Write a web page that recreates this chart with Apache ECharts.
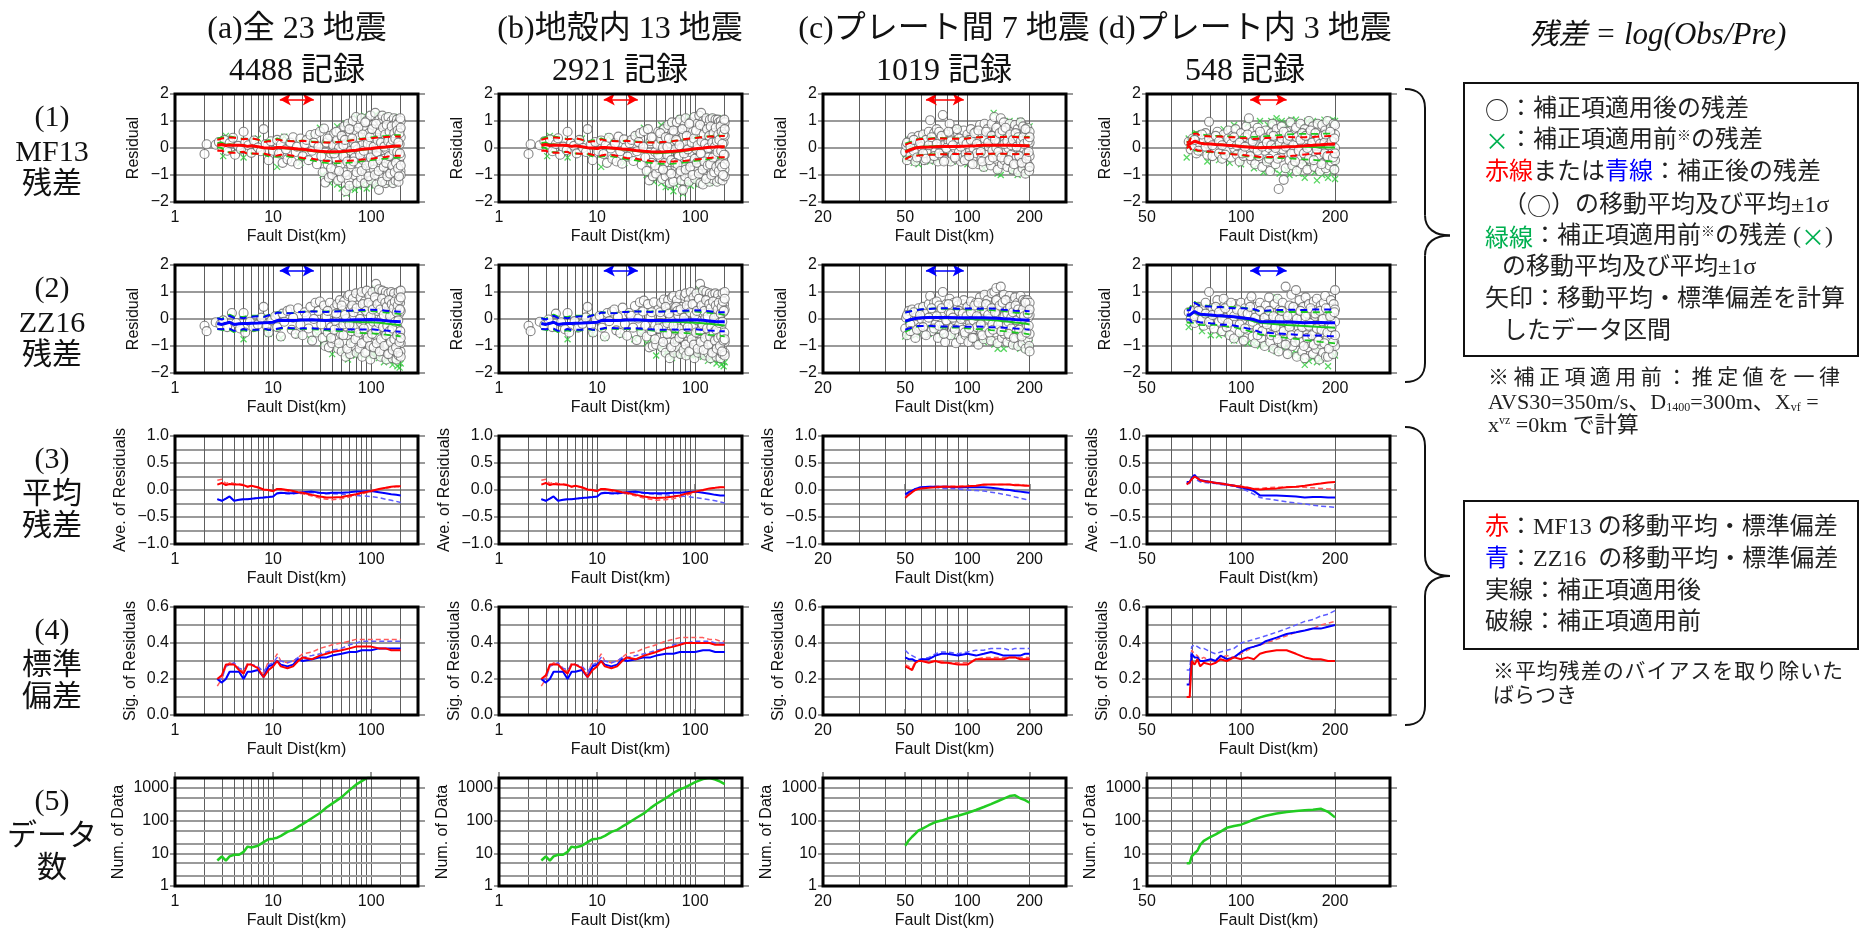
<!DOCTYPE html>
<html><head><meta charset="utf-8">
<script src="https://cdn.jsdelivr.net/npm/echarts@6/dist/echarts.min.js"></script>
<style>html,body{margin:0;padding:0;background:#fff}#c{width:1861px;height:931px}</style>
</head><body><div id="c"></div>
<script>
// ---------------- tick labels / gridline values ----------------
const xLabAB = [1, 10, 100];
const xLabC = [20, 50, 100, 200];
const xLabD = [50, 100, 200];
const vGridAB = [2,3,4,5,6,7,8,9,10,20,30,40,50,60,70,80,90,100,200];
const vGridC = [30,40,50,60,70,80,90,100,200];
const vGridD = [60,70,80,90,100,200];
const yLabCount = [1, 10, 100, 1000];
const yMinorCount = [2, 5, 20, 50, 200, 500];

// ---------------- texts ----------------
const colTitles = ['(a)全 23 地震', '(b)地殻内 13 地震', '(c)プレート間 7 地震', '(d)プレート内 3 地震'];
const colRecords = ['4488 記録', '2921 記録', '1019 記録', '548 記録'];
const rowLabels = [['(1)','MF13','残差'], ['(2)','ZZ16','残差'], ['(3)','平均','残差'], ['(4)','標準','偏差'], ['(5)','データ','数']];

// ---------------- arrows (moving-window interval) ----------------
const arrowAB = [11.7, 26];
const arrowC = [63, 96];
const arrowD = [107, 140];
const arrowY = 1.8;

// ---------------- moving averages / sigmas / counts ----------------
const distAB = [2.7,3,3.3,3.6,4,4.5,5,5.5,6,7,8,9,10,11,12,14,16,18,20,25,30,35,40,50,60,70,80,100,120,140,160,180,200];
const aMf13Mean    = [0.10,0.13,0.09,0.11,0.10,0.10,0.09,0.06,0.08,0.05,0.01,0.00,-0.02,0.02,0.02,0.00,-0.02,-0.04,-0.05,-0.09,-0.12,-0.14,-0.14,-0.13,-0.10,-0.08,-0.05,-0.02,0.02,0.04,0.06,0.07,0.07];
const aMf13MeanPre = [0.18,0.20,0.12,0.14,0.12,0.11,0.10,0.06,0.08,0.04,0.00,-0.01,-0.03,0.02,0.00,-0.02,-0.04,-0.06,-0.07,-0.11,-0.15,-0.17,-0.18,-0.16,-0.13,-0.10,-0.07,-0.03,0.01,0.03,0.05,0.06,0.06];
const aZz16Mean    = [-0.17,-0.20,-0.16,-0.12,-0.20,-0.18,-0.17,-0.17,-0.16,-0.15,-0.14,-0.13,-0.12,-0.06,-0.05,-0.06,-0.06,-0.05,-0.04,-0.03,-0.05,-0.06,-0.05,-0.05,-0.04,-0.03,-0.03,-0.02,-0.04,-0.06,-0.08,-0.09,-0.10];
const aZz16MeanPre = [-0.17,-0.20,-0.16,-0.12,-0.20,-0.18,-0.17,-0.17,-0.16,-0.15,-0.14,-0.13,-0.12,-0.07,-0.06,-0.07,-0.07,-0.06,-0.05,-0.05,-0.06,-0.07,-0.07,-0.08,-0.09,-0.10,-0.11,-0.12,-0.14,-0.17,-0.19,-0.21,-0.23];
const aMf13Sig     = [0.20,0.22,0.28,0.28,0.28,0.25,0.23,0.28,0.28,0.26,0.21,0.25,0.27,0.30,0.27,0.26,0.27,0.30,0.32,0.31,0.33,0.34,0.35,0.36,0.37,0.38,0.38,0.38,0.37,0.37,0.36,0.36,0.36];
const aMf13SigPre  = [0.16,0.20,0.27,0.29,0.28,0.26,0.24,0.29,0.28,0.27,0.23,0.30,0.30,0.34,0.30,0.29,0.30,0.32,0.34,0.35,0.37,0.38,0.39,0.40,0.41,0.42,0.42,0.42,0.42,0.42,0.42,0.42,0.42];
const aZz16Sig     = [0.20,0.18,0.20,0.24,0.24,0.24,0.20,0.24,0.24,0.25,0.21,0.27,0.28,0.30,0.28,0.27,0.28,0.31,0.30,0.31,0.32,0.32,0.33,0.34,0.35,0.35,0.36,0.36,0.37,0.37,0.37,0.37,0.37];
const aZz16SigPre  = [0.20,0.20,0.27,0.28,0.29,0.26,0.25,0.28,0.28,0.27,0.24,0.28,0.29,0.32,0.30,0.29,0.30,0.32,0.32,0.33,0.34,0.35,0.36,0.37,0.39,0.40,0.41,0.41,0.41,0.41,0.41,0.41,0.41];
const aCount       = [6,8,6,8,9,9,11,16,15,17,22,27,28,30,34,45,52,65,78,120,170,250,330,520,850,1250,1600,2400,2800,3200,3500,3800,4000];

const bMf13Mean    = [0.10,0.13,0.09,0.11,0.10,0.10,0.09,0.06,0.08,0.05,0.01,0.00,-0.02,0.02,0.02,0.00,-0.02,-0.04,-0.05,-0.09,-0.12,-0.14,-0.15,-0.14,-0.12,-0.10,-0.07,-0.03,0.00,0.03,0.04,0.05,0.05];
const bMf13MeanPre = [0.18,0.20,0.12,0.14,0.12,0.11,0.10,0.06,0.08,0.04,0.00,-0.01,-0.03,0.02,0.00,-0.02,-0.04,-0.06,-0.07,-0.11,-0.15,-0.17,-0.19,-0.18,-0.16,-0.13,-0.10,-0.05,-0.01,0.02,0.04,0.05,0.05];
const bZz16Mean    = [-0.17,-0.20,-0.16,-0.12,-0.20,-0.18,-0.17,-0.17,-0.16,-0.15,-0.14,-0.13,-0.12,-0.06,-0.05,-0.06,-0.06,-0.05,-0.04,-0.03,-0.05,-0.06,-0.06,-0.06,-0.05,-0.05,-0.04,-0.03,-0.05,-0.07,-0.09,-0.10,-0.10];
const bZz16MeanPre = [-0.17,-0.20,-0.16,-0.12,-0.20,-0.18,-0.17,-0.17,-0.16,-0.15,-0.14,-0.13,-0.12,-0.07,-0.06,-0.07,-0.07,-0.06,-0.05,-0.05,-0.06,-0.07,-0.08,-0.09,-0.10,-0.11,-0.12,-0.14,-0.16,-0.18,-0.20,-0.22,-0.24];
const bMf13Sig     = [0.20,0.22,0.28,0.28,0.28,0.25,0.23,0.28,0.28,0.26,0.21,0.25,0.27,0.30,0.27,0.26,0.27,0.30,0.32,0.31,0.33,0.34,0.35,0.37,0.38,0.39,0.40,0.40,0.40,0.40,0.39,0.39,0.39];
const bMf13SigPre  = [0.16,0.20,0.27,0.29,0.28,0.26,0.24,0.29,0.28,0.27,0.23,0.30,0.30,0.34,0.30,0.29,0.30,0.32,0.34,0.35,0.37,0.38,0.39,0.41,0.42,0.43,0.43,0.43,0.43,0.42,0.42,0.41,0.41];
const bZz16Sig     = [0.20,0.18,0.20,0.24,0.24,0.24,0.20,0.24,0.24,0.25,0.21,0.27,0.28,0.30,0.28,0.27,0.28,0.31,0.30,0.31,0.32,0.32,0.33,0.34,0.34,0.35,0.35,0.35,0.36,0.36,0.35,0.35,0.35];
const bZz16SigPre  = [0.20,0.20,0.27,0.28,0.29,0.26,0.25,0.28,0.28,0.27,0.24,0.28,0.29,0.32,0.30,0.29,0.30,0.32,0.32,0.33,0.34,0.35,0.36,0.37,0.39,0.40,0.40,0.41,0.41,0.41,0.40,0.40,0.40];
const bCount       = [6,8,6,8,9,9,11,16,15,17,22,27,28,30,34,45,52,65,78,120,165,240,320,480,700,900,1050,1500,1850,2000,1800,1550,1300];

const distC = [50,52,54,56,58,60,65,70,75,80,90,100,110,120,130,140,150,160,170,180,190,200];
const cMf13Mean    = [-0.15,-0.09,-0.04,0.00,0.02,0.03,0.04,0.05,0.06,0.06,0.06,0.07,0.08,0.10,0.10,0.10,0.10,0.10,0.09,0.09,0.08,0.08];
const cMf13MeanPre = [-0.12,-0.06,-0.02,0.02,0.04,0.05,0.06,0.07,0.07,0.07,0.07,0.07,0.08,0.09,0.10,0.10,0.10,0.10,0.10,0.10,0.09,0.09];
const cZz16Mean    = [-0.08,-0.04,-0.01,0.02,0.04,0.05,0.06,0.06,0.06,0.06,0.05,0.05,0.05,0.05,0.04,0.03,0.01,0.00,-0.02,-0.03,-0.04,-0.05];
const cZz16MeanPre = [-0.12,-0.07,-0.02,0.02,0.04,0.05,0.06,0.05,0.03,0.03,0.02,0.00,-0.01,-0.02,-0.04,-0.06,-0.08,-0.10,-0.13,-0.15,-0.17,-0.20];
const cMf13Sig     = [0.27,0.26,0.25,0.29,0.30,0.30,0.29,0.30,0.29,0.29,0.28,0.28,0.31,0.31,0.31,0.31,0.31,0.32,0.32,0.31,0.31,0.31];
const cMf13SigPre  = [0.28,0.27,0.26,0.30,0.30,0.31,0.30,0.30,0.30,0.29,0.29,0.29,0.31,0.32,0.32,0.32,0.32,0.32,0.32,0.32,0.32,0.32];
const cZz16Sig     = [0.32,0.31,0.31,0.30,0.30,0.31,0.31,0.33,0.34,0.34,0.33,0.34,0.33,0.34,0.35,0.34,0.33,0.33,0.33,0.33,0.34,0.34];
const cZz16SigPre  = [0.36,0.34,0.33,0.32,0.31,0.31,0.32,0.34,0.35,0.35,0.34,0.35,0.36,0.36,0.37,0.37,0.37,0.36,0.37,0.37,0.37,0.37];
const cCount       = [17,25,32,40,50,55,72,90,100,115,140,170,210,260,320,390,470,560,590,480,420,350];

const distD = [67,68.5,69.5,71,72.5,74,76,80,83,86,90,95,100,105,110,115,120,130,140,150,160,170,180,190,200];
const dMf13Mean    = [0.10,0.15,0.20,0.25,0.22,0.18,0.16,0.15,0.13,0.12,0.10,0.08,0.06,0.04,0.02,0.01,0.02,0.03,0.05,0.06,0.08,0.10,0.12,0.14,0.15];
const dMf13MeanPre = [0.12,0.15,0.20,0.25,0.22,0.19,0.17,0.15,0.14,0.13,0.11,0.09,0.07,0.05,0.03,0.03,0.04,0.05,0.06,0.06,0.05,0.04,0.03,0.02,0.02];
const dZz16Mean    = [0.15,0.15,0.22,0.28,0.22,0.18,0.17,0.15,0.13,0.12,0.10,0.08,0.05,0.02,-0.02,-0.10,-0.10,-0.10,-0.11,-0.12,-0.14,-0.13,-0.13,-0.14,-0.14];
const dZz16MeanPre = [0.12,0.12,0.20,0.25,0.18,0.15,0.14,0.13,0.12,0.10,0.09,0.07,0.03,-0.02,-0.08,-0.14,-0.16,-0.19,-0.22,-0.24,-0.26,-0.28,-0.30,-0.31,-0.32];
const dMf13Sig     = [0.10,0.10,0.30,0.28,0.31,0.27,0.29,0.28,0.29,0.31,0.30,0.32,0.31,0.32,0.31,0.34,0.35,0.36,0.36,0.34,0.32,0.31,0.31,0.30,0.30];
const dMf13SigPre  = [0.10,0.10,0.36,0.34,0.33,0.31,0.32,0.30,0.31,0.32,0.33,0.32,0.34,0.36,0.38,0.39,0.40,0.42,0.44,0.46,0.47,0.48,0.50,0.51,0.52];
const dZz16Sig     = [0.17,0.17,0.34,0.32,0.32,0.30,0.30,0.31,0.30,0.33,0.31,0.32,0.35,0.37,0.38,0.39,0.41,0.43,0.45,0.46,0.47,0.48,0.48,0.49,0.50];
const dZz16SigPre  = [0.25,0.25,0.38,0.39,0.38,0.37,0.37,0.35,0.34,0.35,0.36,0.37,0.40,0.41,0.42,0.43,0.44,0.46,0.48,0.50,0.52,0.53,0.55,0.56,0.58];
const dCount       = [5,5,8,10,12,18,24,32,38,46,60,68,75,90,108,125,140,165,182,195,208,215,230,185,125];

// ---------------- residual scatter (circles: after correction, crosses: before) ----------------
const aMf13Circ = [[2.0,-0.22],[2.1,0.14],[2.6,0.12],[2.8,0.22],[3.0,0.05],[3.2,0.3],[3.4,-0.1],[3.6,0.18],[3.9,0.38],[4.1,-0.25],[4.4,0.08],[4.7,-0.05],[5.0,0.6],[5.2,0.2],[5.6,0.1],[6.0,-0.18],[6.4,0.28],[7.0,0.02],[7.5,-0.12],[8.0,0.7],[8.4,0.15],[9.0,-0.45],[9.5,0.25],[10,-0.1],
[11,0.3],[11.5,-0.2],[12,0.12],[12.5,-0.55],[13,0.35],[13.5,-0.05],[14,-0.42],[15,0.2],[15.5,-0.5],[16,0.4],[17,-0.15],[17.5,0.05],[18,-0.6],[19,0.35],[20,-0.3],[21,0.15],[22,0.3],[23,-0.45],[24,0.48],[25,-0.1],[26,0.2],[27,0.52],[28,-0.6],[29,0.05],
[30,0.6],[31,-0.3],[32,-0.9],[33,0.72],[34,-1.28],[35,0.2],[36,-0.6],[37,-1.1],[38,0.45],[39,-0.2],[40,-1.0],[41,0.1],[42,0.55],[43,-0.8],[44,-0.4],[45,0.3],[46,-1.2],[47,0.0],[48,0.65],[49,-0.6],[50,-1.1],[51,0.35],[52,-0.3],[53,0.8],[54,-0.9],[55,-1.6],[56,0.15],[57,-0.5],[58,0.9],[59,-1.2],[60,-1.4],[61,0.5],[62,-0.1],[63,-0.75],[65,1.0],[66,0.2],[67,-1.0],[68,-0.35],[70,1.15],[71,0.6],[72,-1.3],[73,-0.05],[75,0.4],[76,-0.7],[78,0.9],[79,-1.1],[80,1.1],[81,0.1],[83,-0.45],[85,0.7],[86,-1.3],[88,-0.2],[90,1.0],[91,0.35],[93,-0.9],[95,0.55],[96,-0.55],[98,1.2],[100,-1.2],[101,0.25],[103,-0.1],[105,0.85],[107,-0.8],[110,1.3],[111,0.45],[113,-1.35],[115,-0.3],[117,0.7],[120,-1.55],[121,1.05],[123,0.1],[125,-0.7],[127,0.95],[130,1.2],[131,-1.1],[133,0.3],[135,-0.4],[137,0.8],[140,-1.3],[141,1.1],[143,-0.05],[145,0.5],[147,-0.9],[150,1.15],[151,-1.2],[153,0.2],[155,-0.6],[157,0.75],[160,-1.0],[161,1.0],[163,-0.25],[165,0.45],[167,-1.3],[170,1.1],[171,-0.7],[173,0.1],[175,0.9],[177,-1.2],[180,-0.4],[181,0.6],[183,1.05],[185,-1.0],[187,0.3],[190,-1.25],[191,0.95],[193,-0.5],[195,0.15],[197,0.7],[199,-0.85],[200,1.0],[200,-1.0],[200,0.4],[200,-0.3]];
const aMf13CircFill = [[36,0.35],[39,-0.75],[42,-0.2],[44,0.6],[47,-0.85],[50,0.45],[52,0.1],[54,0.3],[57,-1.0],[60,0.7],[62,-0.6],[64,0.35],[66,-0.5],[69,0.05],[71,-0.9],[74,0.75],[77,-0.25],[80,-0.85],[82,0.5],[84,-0.1],[87,0.95],[89,-0.65],[92,0.15],[94,-1.05],[97,0.4],[99,-0.35],[102,0.7],[104,-0.6],[106,0.05],[109,-1.0],[112,0.9],[114,-0.15],[116,0.3],[119,-0.85],[122,0.55],[124,-0.45],[126,0.2],[129,-1.25],[132,0.75],[134,-0.7],[136,0.05],[139,0.5],[142,-0.55],[144,0.85],[146,-1.05],[149,0.25],[152,-0.3],[154,0.6],[156,-0.95],[159,0.1],[162,0.8],[164,-0.65],[166,0.3],[169,-0.1],[172,0.55],[174,-0.9],[176,0.35],[179,-0.55],[182,0.85],[184,-0.15],[186,0.65],[188,-0.75],[189,0.2],[192,-1.05],[194,0.55],[196,-0.2],[198,1.1],[200,-0.65],[200,0.75]];
const aMf13Cross = [[3.3,0.45],[3.1,-0.3],[5,-0.35],[7,0.35],[11,-0.7],[13,0.42],[19,-0.55],[25,0.45],[32,-1.0],[38,-1.3],[45,-1.35],[50,-1.5],[56,-1.7],[62,-1.5],[68,-1.55],[75,-1.45],[82,-1.35],[90,-1.5],[98,-1.3],[108,-1.4],[118,-1.35],[128,-1.25],[140,-1.3],[150,-1.2],[165,-1.3],[180,-1.1],[195,-1.0],[70,1.15],[85,1.2],[112,1.25],[140,1.2],[170,1.15],[30,0.75],[45,0.8],[55,0.9]];
const aZz16Circ = [[2.0,-0.25],[2.1,-0.45],[2.6,-0.12],[2.9,-0.2],[3.1,-0.05],[3.4,-0.3],[3.8,0.22],[4.2,-0.15],[4.6,-0.35],[5.0,0.22],[5.2,-0.5],[5.8,-0.1],[6.3,-0.3],[7.0,-0.2],[7.6,0.05],[8.0,0.45],[8.6,-0.25],[9.0,-0.5],[9.6,-0.05],[10.5,0.1],[11,-0.3],[12,-0.65],[12.5,0.2],[13,-0.1],[14,0.3],[15,0.35],[15.5,-0.4],[16,0.05],[17,-0.55],[18,0.4],[19,-0.2],[20,-0.6],[21,0.25],[22,0.1],[23,-0.35],[24,0.45],[25,-0.8],[26,0.0],[27,0.6],[28,-0.5],[29,0.3],
[30,0.65],[31,-0.2],[32,-0.7],[33,0.5],[34,-1.0],[35,0.1],[36,-0.5],[37,-1.05],[38,0.6],[39,-0.3],[40,-0.9],[41,0.25],[42,0.4],[43,-0.75],[44,-0.1],[45,0.55],[46,-1.1],[47,-0.35],[48,0.7],[49,-0.55],[50,-1.2],[51,0.3],[52,-0.2],[53,0.65],[54,-0.9],[55,-1.4],[56,0.0],[57,-0.6],[58,0.85],[59,-1.15],[60,0.9],[61,-1.3],[62,0.35],[63,-0.45],[65,0.75],[66,-1.0],[67,0.1],[68,-0.3],[70,0.95],[71,-1.25],[72,0.5],[73,-0.7],[75,0.2],[76,-1.1],[78,0.8],[79,-0.15],[80,1.0],[81,-1.4],[83,0.4],[85,-0.85],[86,0.65],[88,-0.5],[90,1.05],[91,-1.2],[93,0.15],[95,-0.3],[96,0.85],[98,-1.5],[100,0.5],[101,-0.9],[103,1.0],[105,-0.1],[107,-1.3],[110,0.7],[112,1.3],[113,-0.6],[115,0.3],[117,-1.1],[120,1.1],[121,-0.35],[123,0.6],[125,-1.4],[127,0.0],[130,1.05],[131,-0.8],[133,0.45],[135,-1.2],[137,0.85],[140,-0.5],[141,1.0],[143,-1.5],[145,0.2],[147,-0.95],[150,0.95],[151,-0.2],[153,-1.3],[155,0.6],[157,-0.65],[160,1.0],[161,-1.1],[163,0.3],[165,-1.45],[167,0.8],[170,-0.4],[171,0.95],[173,-1.2],[175,0.1],[177,-0.8],[180,0.75],[181,-1.5],[183,0.4],[185,-0.3],[187,-1.0],[190,1.0],[191,-1.35],[193,0.2],[195,-0.6],[197,0.6],[199,-1.2],[200,1.05],[200,-0.9],[200,0.3],[200,-1.4]];
const aZz16CircFill = [[36,0.3],[39,-0.7],[42,-0.4],[44,0.2],[47,-0.9],[50,0.5],[52,-0.6],[54,0.15],[57,-1.1],[60,-0.2],[62,-0.9],[64,0.5],[66,0.25],[69,-0.75],[71,0.4],[74,-0.5],[77,0.0],[80,-0.9],[82,0.55],[84,-0.35],[87,-1.25],[89,0.3],[92,-0.7],[94,0.6],[97,-1.0],[99,0.1],[102,-0.55],[104,0.35],[106,-1.05],[109,0.8],[112,-0.4],[114,-0.9],[116,0.55],[119,-0.15],[122,-1.2],[124,0.35],[126,-0.75],[129,0.75],[132,-0.3],[134,0.15],[136,-1.0],[139,0.6],[142,-0.6],[144,0.45],[146,-0.25],[149,-1.3],[152,0.7],[154,-0.45],[156,0.1],[159,-0.85],[162,0.55],[164,-0.35],[166,-1.15],[169,0.4],[172,-0.75],[174,0.65],[176,-0.1],[179,-1.05],[182,0.25],[184,-0.6],[186,0.5],[188,-1.25],[189,-0.05],[192,0.7],[194,-0.85],[196,0.35],[198,-0.45],[200,0.8],[200,-0.7]];
const aZz16Cross = [[5,-0.75],[9,-0.55],[12,-0.7],[18,-0.6],[24,-0.75],[28,-0.55],[32,-0.9],[36,-0.75],[40,-1.3],[45,-1.0],[50,-1.2],[55,-1.3],[58,-1.5],[62,-1.25],[66,-1.2],[70,-1.35],[75,-1.3],[80,-1.25],[85,-1.35],[90,-1.3],[95,-1.4],[100,-1.2],[105,-1.35],[112,-1.3],[120,-1.45],[128,-1.3],[135,-1.6],[145,-1.4],[155,-1.55],[165,-1.7],[175,-1.5],[185,-1.75],[195,-1.8],[200,-1.65],[110,1.15],[60,-0.9],[150,-1.1],[190,-1.2]];

const bMf13Circ = [[2.0,-0.22],[2.1,0.14],[2.6,0.1],[2.9,0.25],[3.1,0.02],[3.3,0.32],[3.5,-0.12],[3.8,0.15],[4.0,0.36],[4.2,-0.25],[4.5,0.05],[4.9,-0.08],[5.0,0.6],[5.4,0.18],[5.8,0.08],[6.2,-0.2],[6.6,0.3],[7.2,0.0],[7.7,-0.15],[8.0,0.7],[8.6,0.12],[9.0,-0.45],[9.6,0.22],[10.3,-0.12],
[11,0.28],[11.6,-0.22],[12.2,0.1],[12.6,-0.55],[13.2,0.38],[13.8,-0.02],[14.3,-0.4],[15.2,0.18],[15.8,-0.5],[16.5,0.42],[17.2,-0.12],[18,-0.58],[18.8,0.32],[19.5,0.02],[20.5,-0.32],[21.5,0.18],[22.5,0.3],[23.5,-0.48],[24.5,0.45],[25.5,-0.12],[26.5,0.22],[27.5,0.55],[28.5,-0.62],[29.5,0.05],
[30,0.62],[31,-0.35],[32,-0.85],[33,0.7],[34,-1.2],[35,0.25],[36,-0.55],[37,-1.05],[38,0.4],[39,-0.15],[40,-0.95],[41,0.12],[42,0.6],[43,-0.75],[44,-0.35],[45,0.32],[46,-1.15],[47,0.02],[48,0.7],[49,-0.55],[50,-1.05],[51,0.4],[52,-0.25],[53,0.85],[54,-0.85],[55,-1.3],[56,0.18],[57,-0.45],[58,0.95],[59,-1.15],[60,-1.25],[61,0.55],[62,-0.05],[63,-0.7],[65,0.95],[66,0.25],[67,-0.95],[68,-0.3],[70,1.05],[71,0.65],[72,-1.2],[73,0.0],[75,-1.55],[76,0.45],[77,-0.65],[78,0.85],[79,-1.05],[80,1.1],[81,0.15],[83,-0.4],[85,0.75],[86,-1.25],[88,-0.15],[90,0.95],[91,0.4],[93,-0.85],[95,0.6],[96,-0.5],[98,1.15],[100,-1.15],[101,0.3],[103,-0.05],[105,0.9],[107,-0.75],[110,1.2],[112,0.5],[113,-1.3],[115,1.3],[116,-0.25],[118,0.75],[120,-1.35],[121,1.0],[123,0.15],[125,-0.65],[127,1.0],[130,1.1],[131,-1.05],[133,0.35],[135,-0.35],[137,0.85],[140,-1.25],[141,1.05],[143,0.0],[145,0.55],[147,-0.85],[150,1.1],[151,-1.15],[153,0.25],[155,-0.55],[157,0.8],[160,-0.95],[161,1.05],[163,-0.2],[165,0.5],[167,-1.25],[170,1.05],[171,-0.65],[173,0.15],[175,0.95],[177,-1.15],[180,-0.35],[181,0.65],[183,1.0],[185,-0.95],[187,0.35],[190,-1.2],[191,0.9],[193,-0.45],[195,0.2],[197,0.75],[199,-0.8],[200,0.95],[200,-1.05],[200,0.45],[200,-0.25]];
const bMf13CircFill = [[36,0.4],[39,-0.65],[42,-0.25],[44,0.55],[47,-0.8],[50,0.4],[52,0.05],[54,0.35],[57,-0.95],[60,0.65],[62,-0.55],[64,0.3],[66,-0.6],[69,0.1],[71,-0.85],[74,0.7],[77,-0.2],[80,-0.8],[82,0.45],[84,-0.05],[87,0.9],[89,-0.7],[92,0.2],[94,-1.0],[97,0.35],[99,-0.4],[102,0.65],[104,-0.55],[106,0.1],[109,-0.95],[112,0.85],[114,-0.2],[116,0.25],[119,-0.8],[122,0.5],[124,-0.5],[126,0.15],[129,-1.15],[132,0.7],[134,-0.65],[136,0.0],[139,0.45],[142,-0.6],[144,0.8],[146,-1.0],[149,0.2],[152,-0.35],[154,0.55],[156,-0.9],[159,0.05],[162,0.75],[164,-0.7],[166,0.25],[169,-0.15],[172,0.5],[174,-0.85],[176,0.3],[179,-0.6],[182,0.8],[184,-0.1],[186,0.6],[188,-0.7],[189,0.15],[192,-1.0],[194,0.5],[196,-0.25],[198,1.05],[200,-0.6],[200,0.7]];
const bMf13Cross = [[3.3,0.45],[3.1,-0.3],[5,-0.35],[7,0.35],[11,-0.7],[13,0.42],[19,-0.55],[25,0.45],[32,-1.0],[38,-1.25],[45,-1.3],[50,-1.45],[56,-1.45],[62,-1.35],[68,-1.3],[75,-1.7],[82,-1.3],[90,-1.4],[98,-1.25],[108,-1.35],[118,-1.3],[128,-1.2],[140,-1.3],[150,-1.15],[165,-1.25],[180,-1.1],[195,-0.95],[70,1.1],[85,1.15],[112,1.2],[140,1.15],[170,1.1],[30,0.75],[45,0.85],[55,0.9],[60,-1.6]];
const bZz16Circ = [[2.0,-0.25],[2.1,-0.45],[2.6,-0.1],[2.9,-0.22],[3.2,-0.02],[3.5,-0.3],[3.8,0.2],[4.3,-0.12],[4.7,-0.38],[5.0,0.22],[5.2,-0.5],[5.9,-0.08],[6.4,-0.32],[7.1,-0.18],[7.7,0.06],[8.0,0.45],[8.7,-0.22],[9.1,-0.5],[9.7,-0.02],[10.6,0.12],[11.2,-0.32],[12,-0.65],[12.7,0.22],[13.3,-0.08],[14.2,0.28],[15,0.35],[15.7,-0.42],[16.3,0.08],[17.2,-0.52],[18.2,0.42],[19.2,-0.18],[20.2,-0.62],[21.2,0.22],[22.2,0.12],[23.3,-0.32],[24.3,0.48],[25.3,-0.78],[26.3,0.02],[27.3,0.62],[28.3,-0.48],[29.3,0.28],
[30,0.68],[31,-0.25],[32,-0.65],[33,0.55],[34,-1.05],[35,0.05],[36,-0.45],[37,-1.0],[38,0.62],[39,-0.25],[40,-0.95],[41,0.3],[42,0.35],[43,-0.7],[44,-0.15],[45,0.6],[46,-1.05],[47,-0.3],[48,0.72],[49,-0.6],[50,-1.25],[51,0.25],[52,-0.15],[53,0.7],[54,-0.85],[55,-1.45],[56,0.05],[57,-0.55],[58,0.8],[59,-1.1],[60,0.85],[61,-1.25],[62,0.4],[63,-0.4],[65,0.7],[66,-1.05],[67,0.15],[68,-0.35],[70,0.9],[71,-1.3],[72,0.45],[73,-0.65],[75,0.25],[76,-1.15],[78,0.85],[79,-0.1],[80,0.95],[81,-1.35],[83,0.35],[85,-0.8],[86,0.7],[88,-0.55],[90,1.0],[91,-1.15],[93,0.2],[95,-0.25],[96,0.8],[98,-1.45],[100,0.55],[101,-0.85],[103,0.95],[105,-0.05],[107,-1.25],[110,0.75],[112,1.3],[113,-0.55],[115,0.25],[117,-1.15],[120,1.05],[121,-0.4],[123,0.55],[125,-1.35],[127,0.05],[130,1.0],[131,-0.75],[133,0.5],[135,-1.25],[137,0.8],[140,-0.45],[141,0.95],[143,-1.45],[145,0.25],[147,-0.9],[150,0.9],[151,-0.25],[153,-1.25],[155,0.65],[157,-0.6],[160,0.95],[161,-1.15],[163,0.35],[165,-1.4],[167,0.75],[170,-0.35],[171,0.9],[173,-1.15],[175,0.15],[177,-0.85],[180,0.7],[181,-1.45],[183,0.45],[185,-0.25],[187,-1.05],[190,0.95],[191,-1.3],[193,0.25],[195,-0.65],[197,0.55],[199,-1.25],[200,1.0],[200,-0.85],[200,0.35],[200,-1.35]];
const bZz16CircFill = [[36,0.25],[39,-0.75],[42,-0.35],[44,0.25],[47,-0.85],[50,0.45],[52,-0.55],[54,0.2],[57,-1.05],[60,-0.25],[62,-0.85],[64,0.45],[66,0.3],[69,-0.7],[71,0.35],[74,-0.55],[77,0.05],[80,-0.95],[82,0.5],[84,-0.3],[87,-1.2],[89,0.25],[92,-0.75],[94,0.55],[97,-0.95],[99,0.15],[102,-0.5],[104,0.3],[106,-1.1],[109,0.75],[112,-0.45],[114,-0.85],[116,0.5],[119,-0.2],[122,-1.15],[124,0.3],[126,-0.7],[129,0.7],[132,-0.35],[134,0.1],[136,-0.95],[139,0.55],[142,-0.65],[144,0.4],[146,-0.3],[149,-1.25],[152,0.65],[154,-0.5],[156,0.05],[159,-0.8],[162,0.5],[164,-0.4],[166,-1.1],[169,0.35],[172,-0.7],[174,0.6],[176,-0.15],[179,-1.0],[182,0.2],[184,-0.65],[186,0.45],[188,-1.2],[189,-0.1],[192,0.65],[194,-0.8],[196,0.3],[198,-0.5],[200,0.75],[200,-0.75]];
const bZz16Cross = [[5,-0.75],[9,-0.55],[12,-0.7],[18,-0.6],[24,-0.75],[28,-0.55],[32,-0.9],[36,-0.8],[40,-1.35],[45,-1.05],[50,-1.25],[55,-1.3],[58,-1.45],[62,-1.3],[66,-1.15],[70,-1.3],[75,-1.35],[80,-1.2],[85,-1.3],[90,-1.35],[95,-1.35],[100,-1.25],[105,-1.3],[112,-1.35],[120,-1.4],[128,-1.35],[135,-1.55],[145,-1.45],[155,-1.5],[165,-1.65],[175,-1.55],[185,-1.7],[195,-1.75],[200,-1.6],[110,1.1],[60,-0.95],[150,-1.15],[190,-1.25]];

const cMf13Circ = [[50,-0.15],[50.5,0.1],[51,-0.45],[52,0.25],[53,-0.3],[54,0.4],[55,-0.1],[56,-0.5],[57,0.15],[58,0.45],[59,-0.35],[60,0.05],[61,0.5],[62,-0.45],[63,0.3],[64,-0.2],[65,0.6],[66,1.03],[67,-0.4],[68,0.2],[69,0.55],[70,-0.15],[71,0.7],[72,-0.5],[73,0.6],[74,0.35],[75,-0.3],[76,1.22],[77,0.1],[78,-0.45],[79,0.5],[80,-0.05],[81,0.25],[82,0.9],[83,-0.5],[84,0.4],[85,-0.25],[86,0.6],[87,0.0],[88,-0.4],[89,0.3],[90,0.55],[91,-0.15],[92,0.15],[93,-0.5],[94,0.45],[95,-0.35],[96,0.65],[97,0.05],[98,-0.2],[100,0.5],[101,-0.45],[102,0.3],[103,-0.1],[104,0.7],[105,-0.55],[106,0.2],[107,0.0],[108,-0.35],[110,0.6],[111,-0.2],[112,0.35],[113,-0.6],[115,0.85],[116,0.1],[117,-0.4],[118,0.5],[120,-0.7],[121,0.9],[122,0.25],[123,-0.25],[125,0.7],[126,-0.5],[127,0.05],[128,0.45],[130,-0.65],[131,0.9],[132,-0.1],[133,0.35],[135,1.15],[136,-0.4],[137,0.6],[138,0.0],[140,-0.8],[141,0.8],[142,0.2],[143,-0.3],[145,1.1],[146,0.5],[147,-0.6],[148,0.1],[150,0.95],[151,-0.45],[152,0.3],[153,-0.15],[155,0.7],[156,-0.7],[157,0.4],[158,0.0],[160,0.9],[161,-0.5],[162,0.2],[163,-0.25],[165,0.6],[166,-0.8],[167,0.45],[168,0.05],[170,0.85],[171,-0.6],[172,0.25],[173,-0.35],[175,0.7],[176,-0.9],[177,0.15],[178,0.5],[180,-0.5],[181,0.95],[182,-0.1],[183,0.35],[185,-0.75],[186,0.8],[187,0.0],[188,-0.4],[190,0.6],[191,-0.95],[192,0.3],[193,-0.2],[195,0.75],[196,-0.6],[197,0.1],[198,0.45],[199,-0.85],[200,0.6],[200,-0.3],[200,0.2],[200,-0.7]];
const cMf13CircFill = [[51,0.2],[53,0.05],[55,0.3],[57,-0.35],[59,0.2],[61,-0.2],[63,-0.4],[65,0.1],[67,0.4],[69,-0.3],[71,0.15],[73,-0.2],[75,0.45],[77,-0.5],[79,0.0],[81,0.6],[83,0.25],[85,0.1],[87,-0.35],[89,0.7],[91,0.35],[93,0.05],[95,0.25],[97,-0.45],[99,0.15],[102,-0.3],[104,0.3],[106,-0.6],[108,0.55],[111,0.15],[113,0.65],[116,-0.15],[118,-0.5],[121,0.35],[123,0.6],[126,0.2],[128,-0.45],[131,0.45],[133,-0.35],[136,0.3],[138,0.75],[141,-0.15],[143,0.55],[146,-0.35],[148,0.65],[151,0.15],[153,0.75],[156,0.25],[158,-0.45],[161,0.5],[163,0.1],[166,0.3],[168,-0.6],[171,0.55],[173,0.05],[176,0.4],[178,-0.3],[181,0.25],[183,-0.55],[186,0.4],[188,0.15],[191,0.7],[193,-0.4],[196,0.25],[198,-0.15],[200,0.4]];
const cMf13Cross = [[50,-0.4],[52,0.3],[55,-0.55],[58,-0.6],[62,0.45],[66,-0.5],[72,-0.45],[80,0.5],[85,-0.5],[90,0.7],[95,-0.45],[100,-0.6],[110,-0.55],[120,-0.75],[134,1.3],[140,-0.95],[145,-1.0],[150,0.75],[160,1.0],[165,-0.85],[175,-1.0],[180,1.0],[188,-0.85],[192,-0.95],[198,-0.7],[200,0.8]];
const cZz16Circ = [[50,-0.35],[50.5,0.05],[51,-0.6],[52,0.3],[53,-0.2],[54,0.35],[55,-0.5],[56,-0.7],[57,0.1],[58,0.4],[59,-0.3],[60,0.0],[61,0.45],[62,-0.55],[63,0.2],[64,-0.1],[65,0.55],[66,0.85],[67,-0.45],[68,0.25],[69,0.6],[70,-0.2],[71,0.65],[72,-0.7],[73,0.5],[74,0.3],[75,-0.4],[76,1.0],[77,0.15],[78,-0.85],[79,0.55],[80,-0.1],[81,0.3],[82,0.75],[83,-0.6],[84,0.45],[85,-0.3],[86,0.6],[87,-0.05],[88,-0.9],[89,0.25],[90,0.5],[91,-0.25],[92,0.1],[93,-0.75],[94,0.55],[95,-0.4],[96,0.7],[97,0.0],[98,-0.6],[100,0.45],[101,-0.85],[102,0.2],[103,-0.15],[104,0.65],[105,-0.5],[106,0.3],[107,-0.05],[108,-0.7],[110,0.6],[111,-0.3],[112,0.35],[113,-0.95],[115,0.8],[116,0.05],[117,-0.5],[118,0.45],[120,-0.75],[121,0.9],[122,0.2],[123,-0.35],[125,0.7],[126,-0.6],[127,0.0],[128,0.5],[130,-0.8],[131,0.95],[132,-0.2],[133,0.3],[135,1.0],[136,-0.5],[137,0.6],[138,1.15],[140,-0.9],[141,0.75],[142,0.15],[143,-0.4],[145,1.2],[146,0.45],[147,-0.7],[148,0.05],[150,0.9],[151,-0.55],[152,0.25],[153,-0.25],[155,0.7],[156,-0.85],[157,0.4],[158,-0.1],[160,0.85],[161,-0.65],[162,0.15],[163,-0.35],[165,0.65],[166,-0.95],[167,0.4],[168,0.0],[170,0.8],[171,-0.7],[172,0.2],[173,-0.45],[175,0.6],[176,-1.0],[177,0.1],[178,0.5],[180,-0.6],[181,0.85],[182,-0.2],[183,0.3],[185,-0.9],[186,0.7],[187,-0.05],[188,-0.5],[190,0.65],[191,-1.1],[192,0.25],[193,-0.3],[195,0.7],[196,-0.75],[197,0.05],[198,0.4],[199,-1.0],[200,0.6],[200,-1.2],[200,0.15],[200,-0.55]];
const cZz16CircFill = [[51,0.15],[53,-0.45],[55,0.25],[57,-0.4],[59,0.15],[61,-0.3],[63,-0.6],[65,0.05],[67,0.4],[69,-0.35],[71,0.1],[73,-0.25],[75,0.4],[77,-0.55],[79,-0.05],[81,0.55],[83,0.2],[85,0.05],[87,-0.4],[89,0.65],[91,0.3],[93,0.0],[95,0.2],[97,-0.5],[99,0.1],[102,-0.35],[104,0.25],[106,-0.7],[108,0.5],[111,0.1],[113,0.6],[116,-0.2],[118,-0.6],[121,0.3],[123,0.55],[126,0.15],[128,-0.5],[131,0.4],[133,-0.4],[136,0.25],[138,0.7],[141,-0.2],[143,0.5],[146,-0.45],[148,0.6],[151,0.1],[153,0.7],[156,0.2],[158,-0.55],[161,0.45],[163,0.05],[166,0.25],[168,-0.7],[171,0.5],[173,-0.05],[176,0.35],[178,-0.4],[181,0.2],[183,-0.65],[186,0.35],[188,0.1],[191,0.6],[193,-0.5],[196,0.2],[198,-0.25],[200,0.35]];
const cZz16Cross = [[50,-0.65],[53,-0.5],[56,-0.6],[60,-0.5],[65,-0.55],[70,-0.45],[75,-0.6],[85,-0.65],[95,-0.6],[100,-0.7],[110,-0.75],[120,-0.85],[130,-0.75],[135,-0.95],[140,-1.1],[150,-1.1],[160,-0.95],[170,-1.0],[180,-1.1],[185,-0.95],[190,-1.0],[195,-1.15],[200,-0.9]];

const dMf13Circ = [[68,0.23],[69,-0.05],[70,0.35],[71,0.1],[72,-0.2],[73,0.45],[74,0.15],[75,-0.1],[76,0.3],[77,0.55],[78,-0.25],[79,0.97],[80,0.2],[81,-0.3],[82,0.4],[83,0.0],[84,0.6],[85,-0.2],[86,0.3],[87,-0.4],[88,0.5],[89,0.1],[90,-0.1],[91,0.65],[92,0.25],[93,-0.35],[94,0.45],[95,0.0],[96,0.7],[97,-0.25],[98,0.3],[99,-0.5],[100,0.55],[101,0.1],[102,-0.3],[103,0.4],[104,0.8],[105,-0.15],[106,1.1],[107,0.2],[108,-0.45],[109,0.6],[110,0.0],[111,-0.6],[112,0.35],[113,0.75],[114,-0.3],[115,0.15],[116,0.5],[117,-0.7],[118,0.25],[119,-0.1],[120,0.65],[121,-0.5],[122,0.4],[123,0.0],[124,-0.85],[125,0.55],[126,0.9],[127,-0.25],[128,0.2],[129,-0.6],[130,0.7],[131,0.1],[132,-1.52],[133,0.45],[134,-0.35],[135,0.8],[136,-0.05],[137,-1.18],[138,0.3],[139,-0.75],[140,0.6],[142,0.05],[143,-0.45],[144,0.95],[145,0.25],[146,-0.65],[147,0.5],[148,-0.2],[150,0.75],[151,-0.85],[152,0.15],[153,0.45],[154,-0.4],[155,0.9],[156,0.0],[157,-0.6],[158,0.35],[160,0.7],[161,-0.3],[162,0.2],[163,-0.8],[164,0.55],[165,1.0],[166,-0.1],[167,0.4],[168,-0.5],[170,0.8],[171,0.1],[172,-0.7],[173,0.3],[174,-0.25],[175,0.6],[176,0.9],[177,-0.4],[178,0.15],[179,-0.85],[180,0.5],[181,0.05],[182,0.85],[183,-0.55],[184,0.3],[185,-0.2],[186,0.65],[187,-0.75],[188,0.2],[189,1.0],[190,-0.35],[191,0.4],[192,-0.65],[193,0.1],[194,0.75],[195,-0.5],[196,0.3],[197,-0.1],[198,0.9],[199,-0.8],[200,0.5],[200,0.0],[200,-0.45],[200,0.85]];
const dMf13CircFill = [[71,0.3],[73,-0.1],[75,0.5],[77,0.05],[79,0.35],[81,0.1],[83,0.45],[85,0.25],[87,0.1],[89,-0.25],[91,0.35],[93,0.15],[95,0.4],[97,0.1],[99,0.2],[101,-0.2],[103,0.05],[105,0.5],[107,-0.3],[109,0.25],[111,0.45],[113,-0.1],[115,0.6],[117,0.05],[119,0.35],[121,0.2],[123,-0.4],[125,0.1],[127,0.45],[129,0.0],[131,-0.4],[133,0.15],[135,0.35],[137,0.6],[139,0.05],[141,0.3],[143,0.45],[145,-0.2],[147,0.1],[149,-0.5],[151,0.4],[153,-0.1],[155,0.3],[157,0.55],[159,-0.2],[161,0.45],[163,0.0],[165,-0.4],[167,0.65],[169,0.2],[171,-0.45],[173,0.55],[175,-0.05],[177,0.35],[179,0.15],[181,-0.6],[183,0.45],[185,0.2],[187,0.5],[189,-0.3],[191,0.1],[193,0.6],[195,0.25],[197,-0.35],[199,0.35],[200,-0.2]];
const dMf13Cross = [[67,-0.35],[68,0.35],[72,0.55],[78,-0.5],[85,-0.45],[88,0.7],[92,-0.55],[95,0.85],[100,-0.6],[105,0.9],[110,-0.75],[115,1.0],[118,-0.9],[122,0.85],[125,1.0],[128,-0.8],[130,1.1],[133,-0.95],[135,1.0],[138,0.7],[140,-0.8],[143,-1.0],[145,1.05],[148,-0.7],[150,1.05],[153,-0.95],[156,0.8],[160,-1.1],[163,1.0],[166,-0.6],[170,1.0],[172,-0.9],[175,-1.2],[178,0.95],[182,-1.0],[185,1.05],[188,-0.7],[190,-1.1],[193,0.85],[195,-0.9],[197,1.05],[200,1.0],[200,-1.15],[200,-0.6],[160,-0.5],[180,-0.55],[140,0.9],[120,-0.5]];
const dZz16Circ = [[68,0.25],[69,0.0],[70,0.3],[71,-0.15],[72,0.15],[73,0.45],[74,-0.05],[75,0.35],[76,-0.25],[77,0.6],[78,0.1],[79,1.0],[80,-0.2],[81,0.4],[82,-0.35],[83,0.2],[84,0.7],[85,-0.1],[86,0.35],[87,-0.45],[88,0.75],[89,0.05],[90,-0.3],[91,0.5],[92,-0.6],[93,0.25],[94,0.0],[95,-0.72],[96,0.55],[97,-0.15],[98,0.3],[99,-0.5],[100,0.6],[101,-0.05],[102,-0.8],[103,0.4],[104,0.1],[105,-0.4],[106,0.65],[107,-0.2],[108,0.83],[109,-0.65],[110,0.2],[111,-0.9],[112,0.45],[113,-0.35],[114,0.0],[115,0.6],[116,-0.7],[117,0.25],[118,-0.15],[119,-1.0],[120,0.5],[121,-0.45],[122,0.1],[123,0.8],[124,-0.85],[125,0.3],[126,-0.25],[127,-1.1],[128,0.55],[129,-0.55],[130,0.05],[131,0.75],[132,-1.2],[133,0.35],[134,-0.4],[135,-0.9],[136,0.6],[137,0.0],[138,-0.65],[139,1.2],[140,0.25],[141,-1.3],[142,-0.2],[143,0.5],[144,-0.75],[145,0.9],[146,-1.0],[147,0.1],[148,-0.45],[150,1.07],[151,-1.4],[152,0.35],[153,-0.3],[154,0.7],[155,-0.85],[156,0.0],[157,-1.2],[158,0.45],[160,-1.45],[161,0.8],[162,-0.6],[163,0.2],[164,-1.05],[165,0.55],[166,-0.15],[167,-0.9],[168,0.3],[170,-1.3],[171,0.65],[172,-0.45],[173,0.1],[174,-1.1],[175,0.75],[176,-0.7],[177,0.25],[178,-1.5],[179,-0.2],[180,0.5],[181,-0.95],[182,0.05],[183,-1.25],[184,0.6],[185,-0.5],[186,0.85],[187,-1.4],[188,0.15],[189,-0.75],[190,-1.4],[191,0.4],[192,-0.3],[193,-1.1],[194,0.7],[195,-0.6],[196,0.2],[197,-1.3],[198,0.55],[199,-0.85],[200,1.07],[200,-0.1],[200,-1.0],[200,0.35]];
const dZz16CircFill = [[71,0.1],[73,0.3],[75,0.0],[77,0.2],[79,-0.1],[81,0.15],[83,0.45],[85,0.25],[87,0.0],[89,0.4],[91,-0.15],[93,0.6],[95,0.1],[97,0.35],[99,-0.2],[101,0.25],[103,-0.35],[105,0.2],[107,0.45],[109,-0.1],[111,0.05],[113,-0.6],[115,0.3],[117,-0.45],[119,0.05],[121,-0.2],[123,0.3],[125,-0.6],[127,0.1],[129,-0.3],[131,-0.75],[133,0.0],[135,0.3],[137,-0.45],[139,-0.95],[141,0.1],[143,-0.3],[145,-0.6],[147,0.45],[149,-0.85],[151,0.0],[153,-0.55],[155,0.3],[157,-0.3],[159,-1.0],[161,0.1],[163,-0.7],[165,-0.25],[167,0.4],[169,-0.6],[171,-0.95],[173,0.2],[175,-0.35],[177,-0.8],[179,0.3],[181,-0.4],[183,0.0],[185,-0.9],[187,0.4],[189,-0.5],[191,-1.1],[193,0.1],[195,-0.3],[197,-0.85],[199,0.25],[200,-0.6]];
const dZz16Cross = [[68,-0.3],[70,-0.15],[75,-0.45],[80,-0.6],[85,-0.6],[90,-0.55],[95,-0.8],[100,-0.65],[105,-0.9],[110,-0.9],[115,-1.0],[120,-0.95],[125,-1.1],[130,-1.2],[135,-1.05],[140,-1.0],[145,-1.3],[150,-1.25],[155,-1.4],[160,-1.7],[165,-1.55],[170,-1.45],[175,-1.6],[180,-1.5],[185,-1.4],[190,-1.75],[195,-1.0],[200,-1.35],[200,-0.9],[150,-0.8],[175,-1.1],[130,0.8]];

// ---------------- build ----------------
const cols = [
  {dist:distAB, m1:aMf13Mean, m1p:aMf13MeanPre, m2:aZz16Mean, m2p:aZz16MeanPre, s1:aMf13Sig, s1p:aMf13SigPre, s2:aZz16Sig, s2p:aZz16SigPre, n:aCount, c1:aMf13Circ.concat(aMf13CircFill), x1:aMf13Cross, c2:aZz16Circ.concat(aZz16CircFill), x2:aZz16Cross, xmin:1, xlab:xLabAB, vgrid:vGridAB, arrow:arrowAB},
  {dist:distAB, m1:bMf13Mean, m1p:bMf13MeanPre, m2:bZz16Mean, m2p:bZz16MeanPre, s1:bMf13Sig, s1p:bMf13SigPre, s2:bZz16Sig, s2p:bZz16SigPre, n:bCount, c1:bMf13Circ.concat(bMf13CircFill), x1:bMf13Cross, c2:bZz16Circ.concat(bZz16CircFill), x2:bZz16Cross, xmin:1, xlab:xLabAB, vgrid:vGridAB, arrow:arrowAB},
  {dist:distC, m1:cMf13Mean, m1p:cMf13MeanPre, m2:cZz16Mean, m2p:cZz16MeanPre, s1:cMf13Sig, s1p:cMf13SigPre, s2:cZz16Sig, s2p:cZz16SigPre, n:cCount, c1:cMf13Circ.concat(cMf13CircFill), x1:cMf13Cross, c2:cZz16Circ.concat(cZz16CircFill), x2:cZz16Cross, xmin:20, xlab:xLabC, vgrid:vGridC, arrow:arrowC},
  {dist:distD, m1:dMf13Mean, m1p:dMf13MeanPre, m2:dZz16Mean, m2p:dZz16MeanPre, s1:dMf13Sig, s1p:dMf13SigPre, s2:dZz16Sig, s2p:dZz16SigPre, n:dCount, c1:dMf13Circ.concat(dMf13CircFill), x1:dMf13Cross, c2:dZz16Circ.concat(dZz16CircFill), x2:dZz16Cross, xmin:50, xlab:xLabD, vgrid:vGridD, arrow:arrowD}
];

const L = [175, 499, 823, 1147], W = 243, T = [94, 265, 436, 607, 778], H = 108, XMAX = 300;
const RED = '#ff0000', BLUE = '#0000ff', LRED = '#ff5c5c', LBLUE = '#5c5cff', GREEN = '#1ec81e', CROSS = '#2ecc3a';
const GRIDH = '#9a9a9a';
const fontSans = "'Liberation Sans', Arial, sans-serif";
const fontSerif = "'Liberation Serif','Noto Sans CJK JP',serif";
const fontJP = "'Liberation Serif','Noto Sans CJK JP',sans-serif";
const fontCJK = "'Noto Sans CJK JP',sans-serif";
const minus = (s, neg) => (neg ? '\u2212' : '') + s;

const rowCfg = [
  {type:'value', min:-2, max:2, interval:1, name:'Residual', gap:33, fmt:v=>minus(String(Math.abs(v)), v<0)},
  {type:'value', min:-2, max:2, interval:1, name:'Residual', gap:33, fmt:v=>minus(String(Math.abs(v)), v<0)},
  {type:'value', min:-1, max:1, interval:0.5, minor:2, name:'Ave. of Residuals', gap:46, fmt:v=>minus(Math.abs(v).toFixed(1), v<0)},
  {type:'value', min:0, max:0.6, interval:0.2, minor:2, name:'Sig. of Residuals', gap:36, fmt:v=>v.toFixed(1)},
  {type:'log', min:1, max:2000, name:'Num. of Data', gap:48, fmt:v=>String(Math.round(v))}
];

const zip = (xs, ys) => xs.map((x, i) => [x, ys[i]]);
const band = (xs, m, s, k) => xs.map((x, i) => [x, Math.round((m[i] + k * s[i]) * 1000) / 1000]);

const grids = [], xAxes = [], yAxes = [], series = [], gfx = [];
const txt = () => ({fontSize:16, color:'#111', fontFamily:fontSans});

function mkLine(gi, data, color, width, dash, z, extra) {
  return Object.assign({type:'line', xAxisIndex:2*gi, yAxisIndex:2*gi, data, symbol:'none', showSymbol:false,
    silent:true, z, lineStyle:{color, width, type: dash ? dash : 'solid'}, emphasis:{disabled:true}}, extra || {});
}
function gridMark(p, extra) {
  return {silent:true, z:1, symbol:['none','none'], label:{show:false}, emphasis:{disabled:true}, animation:false,
    lineStyle:{color:'#5e5e5e', width:1, type:'solid'},
    data: p.vgrid.map(v => ({xAxis:v})).concat(extra || [])};
}
function arrowMark(p, color) {
  return {silent:true, z:8, symbol:['arrow','arrow'], symbolSize:[9, 11], label:{show:false}, emphasis:{disabled:true}, animation:false,
    lineStyle:{color, width:1.5, type:'solid'}, itemStyle:{color},
    data:[[{coord:[p.arrow[0], arrowY]}, {coord:[p.arrow[1], arrowY]}]]};
}

for (let r = 0; r < 5; r++) for (let c = 0; c < 4; c++) {
  const gi = r * 4 + c, p = cols[c], rc = rowCfg[r];
  grids.push({left:L[c], top:T[r], width:W, height:H, show:false});
  xAxes.push({gridIndex:gi, type:'log', logBase:10, min:p.xmin, max:XMAX, position:'bottom',
    axisLine:{show:false}, axisTick:{show:false}, splitLine:{show:false},
    axisLabel:Object.assign({customValues:p.xlab, margin:8, formatter:v=>String(Math.round(v))}, txt()),
    name:'Fault Dist(km)', nameLocation:'middle', nameGap:27, nameTextStyle:txt()});
  xAxes.push({gridIndex:gi, type:'log', logBase:10, min:p.xmin, max:XMAX, position:'top',
    axisLine:{show:false}, axisLabel:{show:false}, splitLine:{show:false},
    axisTick:{show:true, customValues:p.xlab, length:6, lineStyle:{color:'#777', width:1.5}}});
  const yBase = {gridIndex:gi, type:rc.type, min:rc.min, max:rc.max};
  if (rc.type === 'value') yBase.interval = rc.interval; else yBase.logBase = 10;
  const tickL = {show:true, length:5, lineStyle:{color:GRIDH, width:2}};
  const tickR = {show:true, length:7, lineStyle:{color:GRIDH, width:2}};
  if (rc.type === 'log') { tickL.customValues = yLabCount; tickR.customValues = yLabCount; }
  yAxes.push(Object.assign({}, yBase, {position:'left', axisLine:{show:false}, axisTick:tickL,
    axisLabel:Object.assign({margin:6, formatter:rc.fmt}, rc.type === 'log' ? {customValues:yLabCount} : {}, txt()),
    splitLine:{show:true, lineStyle:{color:GRIDH, width:2}},
    minorTick:{show:false, splitNumber:rc.minor || 5},
    minorSplitLine:{show:!!rc.minor, lineStyle:{color:GRIDH, width:2}},
    name:rc.name, nameLocation:'middle', nameGap:rc.gap, nameRotate:90, nameTextStyle:txt()}));
  yAxes.push(Object.assign({}, yBase, {position:'right', axisLine:{show:false}, axisTick:tickR,
    axisLabel:{show:false}, splitLine:{show:false}}));
  gfx.push({type:'rect', z:100, silent:true, shape:{x:L[c], y:T[r], width:W, height:H},
    style:{fill:'none', stroke:'#000', lineWidth:3}});

  if (r < 2) {
    const mf = r === 0;
    const mean = mf ? p.m1 : p.m2, sig = mf ? p.s1 : p.s2, mp = mf ? p.m1p : p.m2p, sp = mf ? p.s1p : p.s2p;
    const col = mf ? RED : BLUE;
    series.push({type:'scatter', xAxisIndex:2*gi, yAxisIndex:2*gi, data: mf ? p.x1 : p.x2, z:2, silent:true,
      symbol:'path://M0,0L10,10M10,0L0,10', symbolSize:6,
      itemStyle:{color:'rgba(0,0,0,0)', borderColor:CROSS, borderWidth:1.3}, markLine:gridMark(p)});
    series.push({type:'scatter', xAxisIndex:2*gi, yAxisIndex:2*gi, data: mf ? p.c1 : p.c2, z:3, silent:true,
      symbol:'circle', symbolSize:9, itemStyle:{color:'#fff', borderColor:'#666', borderWidth:1.1}});
    series.push(mkLine(gi, band(p.dist, mp, sp, 1), GREEN, 1.8, [7,5], 4));
    series.push(mkLine(gi, band(p.dist, mp, sp, -1), GREEN, 1.8, [7,5], 4));
    series.push(mkLine(gi, zip(p.dist, mp), GREEN, 2, null, 4));
    series.push(mkLine(gi, band(p.dist, mean, sig, 1), col, 2, [7,5], 5));
    series.push(mkLine(gi, band(p.dist, mean, sig, -1), col, 2, [7,5], 5));
    series.push(mkLine(gi, zip(p.dist, mean), col, 3, null, 6, {markLine:arrowMark(p, col)}));
  } else if (r < 4) {
    const m = r === 2 ? [p.m1, p.m1p, p.m2, p.m2p] : [p.s1, p.s1p, p.s2, p.s2p];
    series.push(mkLine(gi, zip(p.dist, m[1]), LRED, 1.5, [5,3], 3, {markLine:gridMark(p)}));
    series.push(mkLine(gi, zip(p.dist, m[3]), LBLUE, 1.5, [5,3], 3));
    series.push(mkLine(gi, zip(p.dist, m[2]), BLUE, 2, null, 4));
    series.push(mkLine(gi, zip(p.dist, m[0]), RED, 2, null, 5));
  } else {
    series.push(mkLine(gi, zip(p.dist, p.n), '#22cc22', 2.5, null, 4,
      {markLine:gridMark(p, yMinorCount.map(v => ({yAxis:v, lineStyle:{color:GRIDH, width:2, type:'solid'}})))}));
  }
}

// ---------------- texts ----------------
const titleX = [297, 620, 944, 1245];
colTitles.forEach((t, i) => {
  gfx.push({type:'text', z:100, x:titleX[i], y:30, style:{text:t, fontSize:32, fontFamily:fontSerif, fill:'#111', align:'center', verticalAlign:'middle'}});
  gfx.push({type:'text', z:100, x:titleX[i], y:72, style:{text:colRecords[i], fontSize:32, fontFamily:fontSerif, fill:'#111', align:'center', verticalAlign:'middle'}});
});
rowLabels.forEach((lines, r) => {
  [24, 59, 91].forEach((dy, k) => gfx.push({type:'text', z:100, x:52, y:T[r] + dy,
    style:{text:lines[k], fontSize:30, fontFamily:fontSerif, fill:'#111', align:'center', verticalAlign:'middle'}}));
});

gfx.push({type:'text', z:100, x:1658, y:36, style:{text:'{j|残差} = log(Obs/Pre)', fontSize:31, fontStyle:'italic', fontFamily:fontSerif, fill:'#111', align:'center', verticalAlign:'middle',
  rich:{j:{fontSize:29, fontStyle:'italic', fontFamily:fontJP, fill:'#111'}}}});

const rich24 = {
  r:{fill:RED, fontSize:24, fontFamily:fontJP},
  b:{fill:BLUE, fontSize:24, fontFamily:fontJP},
  g:{fill:'#00b050', fontSize:24, fontFamily:fontCJK},
  o:{fill:'#222', fontSize:24, fontFamily:fontCJK},
  s:{fill:'#222', fontSize:14, fontFamily:fontJP, verticalAlign:'top', padding:[0,0,10,0]}
};
const legend1 = ['{o|○}：補正項適用後の残差', '{g|×}：補正項適用前{s|※}の残差', '{r|赤線}または{b|青線}：補正後の残差',
  '（{o|○}）の移動平均及び平均±1σ', '{g|緑線}：補正項適用前{s|※}の残差 ({g|×})', 'の移動平均及び平均±1σ',
  '矢印：移動平均・標準偏差を計算', 'したデータ区間'];
const legend1X = [1485, 1485, 1485, 1503, 1485, 1502, 1485, 1503];
const legend1Y = [110, 141, 173, 206, 237, 268, 300, 332];
legend1.forEach((t, i) => gfx.push({type:'text', z:100, x:legend1X[i], y:legend1Y[i],
  style:{text:t, fontSize:24, fontFamily:fontJP, fill:'#222', verticalAlign:'middle', rich:rich24}}));
gfx.push({type:'rect', z:100, silent:true, shape:{x:1464, y:83, width:394, height:273}, style:{fill:'none', stroke:'#111', lineWidth:2}});

const legend2 = ['{r|赤}：MF13 の移動平均・標準偏差', '{b|青}：ZZ16  の移動平均・標準偏差', '実線：補正項適用後', '破線：補正項適用前'];
const legend2Y = [528, 560, 592, 623];
legend2.forEach((t, i) => gfx.push({type:'text', z:100, x:1485, y:legend2Y[i],
  style:{text:t, fontSize:24, fontFamily:fontJP, fill:'#222', verticalAlign:'middle', rich:rich24}}));
gfx.push({type:'rect', z:100, silent:true, shape:{x:1464, y:501, width:394, height:148}, style:{fill:'none', stroke:'#111', lineWidth:2}});

function justify(str, x0, x1, y, size) {
  const ch = Array.from(str), step = (x1 - x0 - size) / (ch.length - 1);
  ch.forEach((c, i) => gfx.push({type:'text', z:100, x:x0 + i * step, y,
    style:{text:c, fontSize:size, fontFamily:fontJP, fill:'#222', verticalAlign:'middle'}}));
}
justify('※補正項適用前：推定値を一律', 1488, 1840, 378, 21);
const richN = {sub:{fontSize:12, fontFamily:fontSerif, fill:'#222', verticalAlign:'bottom'}, sup:{fontSize:12, fontFamily:fontSerif, fill:'#222', verticalAlign:'top'}};
gfx.push({type:'text', z:100, x:1488, y:403, style:{text:'AVS30=350m/s、D{sub|1400}=300m、X{sub|vf} =', fontSize:22, fontFamily:fontSerif, fill:'#222', verticalAlign:'middle', rich:richN}});
gfx.push({type:'text', z:100, x:1488, y:426, style:{text:'x{sup|vz} =0km で計算', fontSize:22, fontFamily:fontSerif, fill:'#222', verticalAlign:'middle', rich:richN}});
justify('※平均残差のバイアスを取り除いた', 1493, 1843, 672, 21);
gfx.push({type:'text', z:100, x:1493, y:696, style:{text:'ばらつき', fontSize:21, fontFamily:fontJP, fill:'#222', verticalAlign:'middle'}});

// braces built from bezier curves and straight lines
function brace(y0, y1) {
  const ym = (y0 + y1) / 2, st = {fill:'none', stroke:'#111', lineWidth:2};
  const bz = (x1, y1_, c1x, c1y, c2x, c2y, x2, y2) => ({type:'bezierCurve', z:100, silent:true,
    shape:{x1, y1:y1_, cpx1:c1x, cpy1:c1y, cpx2:c2x, cpy2:c2y, x2, y2}, style:st});
  const ln = (x1, y1_, x2, y2) => ({type:'line', z:100, silent:true, shape:{x1, y1:y1_, x2, y2}, style:st});
  gfx.push(bz(1405, y0, 1418, y0, 1425, y0 + 7, 1425, y0 + 19));
  gfx.push(ln(1425, y0 + 19, 1425, ym - 20));
  gfx.push(bz(1425, ym - 20, 1425, ym - 7, 1435, ym, 1450, ym));
  gfx.push(bz(1450, ym, 1435, ym, 1425, ym + 7, 1425, ym + 20));
  gfx.push(ln(1425, ym + 20, 1425, y1 - 19));
  gfx.push(bz(1425, y1 - 19, 1425, y1 - 7, 1418, y1, 1405, y1));
}
brace(89, 382);
brace(427, 725);

const chart = echarts.init(document.getElementById('c'), null, {renderer:'canvas'});
chart.setOption({animation:false, backgroundColor:'#fff', textStyle:{fontFamily:fontSans, fontSize:16},
  grid:grids, xAxis:xAxes, yAxis:yAxes, series, graphic:{elements:gfx}});
</script></body></html>
